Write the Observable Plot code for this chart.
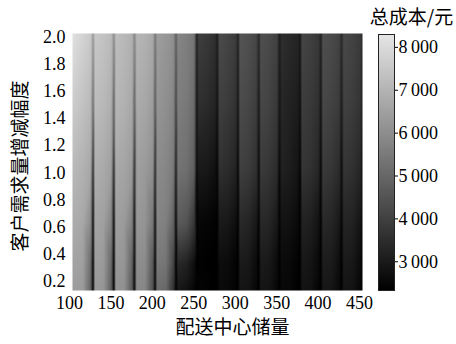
<!DOCTYPE html>
<html><head><meta charset="utf-8">
<script src="https://cdn.jsdelivr.net/npm/d3@7"></script>
<script src="https://cdn.jsdelivr.net/npm/@observablehq/plot@0.6"></script>
<style>
body{margin:0;background:#fff;}
#wrap{position:relative;width:456px;height:344px;background:#fff;}
#wrap svg{position:absolute;left:0;top:0;}
</style></head><body><div id="wrap"></div>
<script>
// 配送中心储量 sample positions (x)
const storage = [100, 102, 112.5, 122, 125, 127, 137.5, 147, 150, 152, 162.5, 172, 175, 177, 187.5, 197, 200, 202, 212.5, 222, 225, 227, 237.5, 247, 250, 252, 262.5, 272, 275, 277, 287.5, 297, 300, 302, 312.5, 322, 325, 327, 337.5, 347, 350, 352, 362.5, 372, 375, 377, 387.5, 397, 400, 402, 412.5, 422, 425, 427, 437.5, 447, 450];
// 客户需求量增减幅度 sample rows (y)
const demandLevels = [0.1, 0.3, 0.6, 1.0, 1.5, 2.0];
// 总成本/元 for each row
const cost01 = [6340, 6420, 6340, 4910, 2300, 6290, 6210, 4780, 2300, 6160, 6080, 4650, 2300, 5900, 5820, 4390, 2300, 5170, 5040, 3600, 2300, 2930, 2770, 2460, 2300, 2430, 2400, 2300, 2300, 2610, 2560, 2380, 2300, 2870, 2820, 2510, 2300, 2870, 2820, 2510, 2300, 2530, 2510, 2350, 2300, 2820, 2770, 2460, 2300, 2930, 2870, 2560, 2300, 2870, 2820, 2510, 2350];
const cost03 = [6470, 6550, 6470, 5170, 2300, 6420, 6340, 5040, 2300, 6290, 6210, 4910, 2300, 6030, 5950, 4650, 2300, 5480, 5380, 4130, 2300, 3400, 3210, 2690, 2300, 2380, 2350, 2300, 2300, 2670, 2610, 2430, 2300, 3030, 2950, 2610, 2300, 3030, 2950, 2610, 2300, 2610, 2560, 2400, 2300, 2950, 2870, 2560, 2300, 3080, 3030, 2670, 2300, 3030, 2950, 2610, 2380];
const cost06 = [6730, 6790, 6680, 5950, 2560, 6600, 6470, 5770, 2560, 6470, 6340, 5640, 2560, 6290, 6160, 5430, 2510, 5770, 5640, 4910, 2460, 4700, 4520, 3730, 2350, 2510, 2460, 2380, 2300, 3030, 2950, 2690, 2350, 3400, 3290, 2950, 2380, 3400, 3290, 2950, 2350, 2820, 2770, 2560, 2350, 3210, 3130, 2820, 2380, 3400, 3290, 2980, 2380, 3290, 3210, 2870, 2510];
const cost10 = [7050, 7100, 6940, 6680, 3470, 6870, 6730, 6470, 3470, 6730, 6600, 6340, 3340, 6470, 6340, 6080, 3290, 5950, 5820, 5510, 3080, 5350, 5220, 4780, 2510, 3030, 2950, 2770, 2430, 3600, 3470, 3240, 2510, 4000, 3870, 3600, 2560, 3870, 3730, 3470, 2430, 3210, 3080, 2870, 2430, 3730, 3600, 3340, 2510, 3870, 3730, 3470, 2560, 3730, 3600, 3340, 2690];
const cost15 = [7650, 7600, 7390, 7150, 5170, 7260, 7130, 6890, 4910, 7070, 6940, 6710, 4780, 6810, 6680, 6420, 4600, 6210, 6080, 5820, 4130, 5610, 5480, 5120, 2770, 3600, 3470, 3290, 2770, 4000, 3870, 3660, 2870, 4310, 4180, 3940, 2950, 4200, 4070, 3810, 2770, 3340, 3210, 3080, 2720, 3940, 3810, 3600, 2870, 4200, 4070, 3870, 2950, 4050, 3920, 3710, 3080];
const cost20 = [8170, 8090, 7830, 7570, 6210, 7520, 7390, 7180, 5950, 7260, 7130, 6920, 5690, 7070, 6940, 6730, 5300, 6420, 6270, 6060, 4780, 5800, 5640, 5380, 3080, 3970, 3810, 3600, 3030, 4280, 4130, 3920, 3210, 4540, 4390, 4180, 3340, 4390, 4260, 4020, 2950, 3550, 3400, 3290, 2950, 4130, 4000, 3810, 3210, 4390, 4260, 4070, 3340, 4230, 4070, 3870, 3470];
const costRows = [cost01, cost03, cost06, cost10, cost15, cost20];

const xTicks = [100, 150, 200, 250, 300, 350, 400, 450];
const yTicks = [0.2, 0.4, 0.6, 0.8, 1.0, 1.2, 1.4, 1.6, 1.8, 2.0];
const cbTicks = [3000, 4000, 5000, 6000, 7000, 8000];
const cbDomain = [2330, 8300];

const xTitle = "配送中心储量";
const yTitle = "客户需求量增减幅度";
const cbTitle = "总成本/元";

const grid = [];
demandLevels.forEach((d, i) => storage.forEach((s, j) => grid.push({s, d, cost: costRows[i][j]})));

const serif = '"Liberation Serif", "Times New Roman", Tinos, "DejaVu Serif", serif';
const cjk = '"Noto Sans CJK SC", "Noto Sans", sans-serif';
const color = {type: "linear", domain: cbDomain, range: ["#000000", "#e6e6e6"], interpolate: "rgb"};
const baseStyle = {fontFamily: serif, fontSize: "18px", color: "#000", background: "transparent", overflow: "visible"};

const main = Plot.plot({
  width: 456, height: 344,
  marginLeft: 72, marginRight: 94, marginTop: 33, marginBottom: 54,
  style: baseStyle,
  x: {domain: [100, 450], label: null},
  y: {domain: [0.1, 2.0], label: null},
  color,
  marks: [
    Plot.raster(grid, {x: "s", y: "d", fill: "cost", interpolate: "barycentric", x1: 100, x2: 450, y1: 0.1, y2: 2.0}),
    Plot.axisX({ticks: xTicks, tickSize: 0, tickPadding: 6, dx: -3, label: null, fontSize: 18, fontFamily: serif}),
    Plot.axisY({ticks: yTicks, tickSize: 0, tickPadding: 7, dy: 4, tickFormat: d => d.toFixed(1), label: null, fontSize: 18, fontFamily: serif}),
    Plot.text([xTitle], {frameAnchor: "bottom", lineAnchor: "middle", textAnchor: "middle", dy: 37, dx: 15, fontSize: 19, fontFamily: cjk}),
    Plot.text([yTitle], {frameAnchor: "left", lineAnchor: "middle", textAnchor: "middle", dx: -52, dy: 4, rotate: -90, fontSize: 19, fontFamily: cjk})
  ]
});

const cb = Plot.plot({
  width: 456, height: 344,
  marginLeft: 378, marginRight: 62, marginTop: 34, marginBottom: 54,
  style: baseStyle,
  x: {domain: [0, 1], axis: null},
  y: {domain: cbDomain, axis: null},
  color,
  marks: [
    Plot.raster({fill: (x, y) => y, x1: 0, x2: 1, y1: cbDomain[0], y2: cbDomain[1]}),
    Plot.frame({stroke: "#222"}),
    Plot.axisY({anchor: "right", ticks: cbTicks, tickSize: 3, tickPadding: 1, label: null, fontSize: 18, fontFamily: serif,
      tickFormat: d => d3.format(",")(d).replace(",", "\u2009")}),
    Plot.text([cbTitle], {frameAnchor: "top", lineAnchor: "middle", textAnchor: "middle", dx: 25, dy: -17, fontSize: 19, fontFamily: cjk})
  ]
});

const wrap = document.getElementById("wrap");
wrap.appendChild(main);
wrap.appendChild(cb);
</script>
</body></html>
